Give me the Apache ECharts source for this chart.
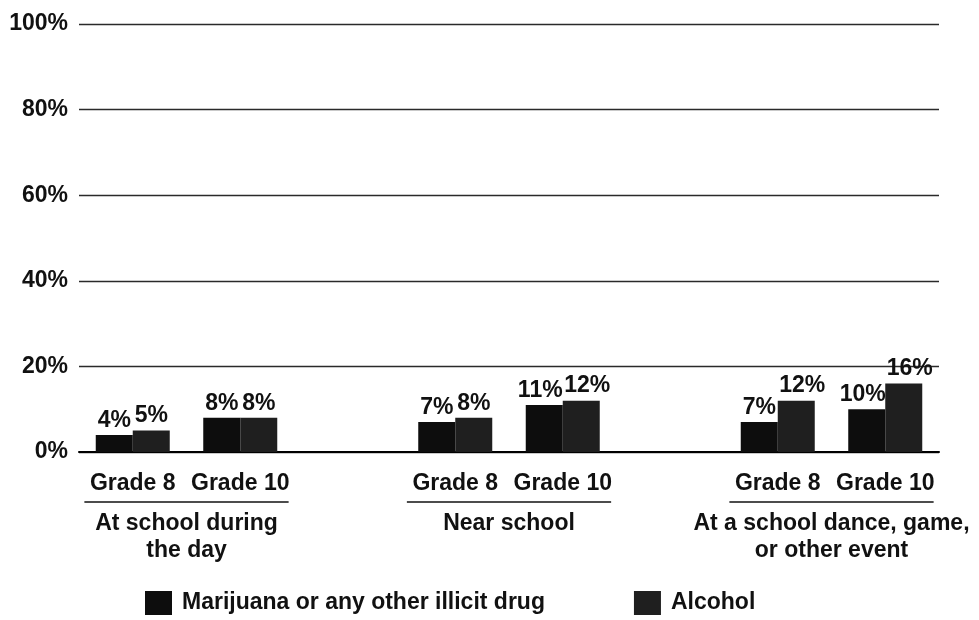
<!DOCTYPE html>
<html>
<head>
<meta charset="utf-8">
<script src="https://cdn.jsdelivr.net/npm/echarts@6/dist/echarts.min.js"></script>
<style>
  html, body { margin: 0; padding: 0; background: #fff; }
  #chart { width: 979px; height: 620px; }
</style>
</head>
<body>
<div id="chart"></div>
<script>
// Share of students reporting use, by place and grade
const gradeLabels = ['Grade 8', 'Grade 10', 'Grade 8', 'Grade 10', 'Grade 8', 'Grade 10'];
const groupNames = ['At school during\nthe day', 'Near school', 'At a school dance, game,\nor other event'];
const marijuana = [4, 8, 7, 11, 7, 10];
const alcohol = [5, 8, 8, 12, 12, 16];
const seriesNames = ['Marijuana or any other illicit drug', 'Alcohol'];

// Two grades per place, with one empty slot between places.
// Two-digit labels are nudged apart so neighbouring labels don't collide.
function toItems(values, nudge) {
  return values.map(v => v == null ? null : {
    value: v,
    label: { offset: [v >= 10 ? nudge : 0, 0] }
  });
}
const slots = [];
const slotM = [];
const slotA = [];
gradeLabels.forEach((g, i) => {
  slots.push(g); slotM.push(marijuana[i]); slotA.push(alcohol[i]);
  if (i % 2 === 1 && i < gradeLabels.length - 1) {
    slots.push(''); slotM.push(null); slotA.push(null);
  }
});
const groupCenters = groupNames.map((_, k) => 3 * k + 1);

const FONT = 'Liberation Sans, Arial, sans-serif';
const txt = { fontFamily: FONT, fontWeight: 'bold', fontSize: 23, color: '#111' };

const chart = echarts.init(document.getElementById('chart'));
const valueLabel = {
  show: true, position: 'top', distance: 3,
  formatter: p => p.value + '%',
  ...txt
};

chart.setOption({
  animation: false,
  backgroundColor: '#fff',
  grid: { left: 79, right: 40, top: 24, bottom: 168, containLabel: false },
  legend: {
    left: 140, top: 586,
    itemWidth: 27, itemHeight: 24, itemGap: 89,
    icon: 'rect',
    textStyle: { ...txt, padding: [0, 0, 0, 5] },
    data: seriesNames
  },
  xAxis: [
    {
      type: 'category',
      data: slots,
      axisLine: { show: true, lineStyle: { color: '#000', width: 2 } },
      axisTick: { show: false },
      axisLabel: { ...txt, margin: 20, interval: 0 }
    },
    {
      type: 'value',
      min: 0, max: slots.length,
      position: 'bottom',
      offset: 58,
      axisLine: { show: false },
      axisTick: { show: false },
      splitLine: { show: false },
      axisLabel: {
        ...txt,
        margin: 0,
        lineHeight: 27,
        verticalAlign: 'top',
        customValues: groupCenters,
        formatter: v => groupNames[groupCenters.indexOf(Math.round(v))] || ''
      }
    }
  ],
  yAxis: {
    type: 'value',
    min: 0, max: 100, interval: 20,
    axisLine: { show: false },
    axisTick: { show: false },
    axisLabel: { ...txt, margin: 11, formatter: v => v + '%' },
    splitLine: { lineStyle: { color: '#2a2a2a', width: 1.3 } }
  },
  series: [
    {
      name: seriesNames[0], type: 'bar', data: toItems(slotM, -4),
      barWidth: 37, barGap: '0%',
      itemStyle: { color: '#0d0d0d' },
      label: valueLabel
    },
    {
      name: seriesNames[1], type: 'bar', data: toItems(slotA, 6),
      barWidth: 37, barGap: '0%',
      itemStyle: { color: '#1f1f1f' },
      label: valueLabel
    }
  ]
});

// Rules under each pair of grade labels
const lines = groupCenters.map(c => {
  const x1 = chart.convertToPixel({ xAxisIndex: 1 }, c - 0.95);
  const x2 = chart.convertToPixel({ xAxisIndex: 1 }, c + 0.95);
  return {
    type: 'line',
    shape: { x1: x1, y1: 502, x2: x2, y2: 502 },
    style: { stroke: '#111', lineWidth: 1.5 }
  };
});
chart.setOption({ graphic: lines });
</script>
</body>
</html>
